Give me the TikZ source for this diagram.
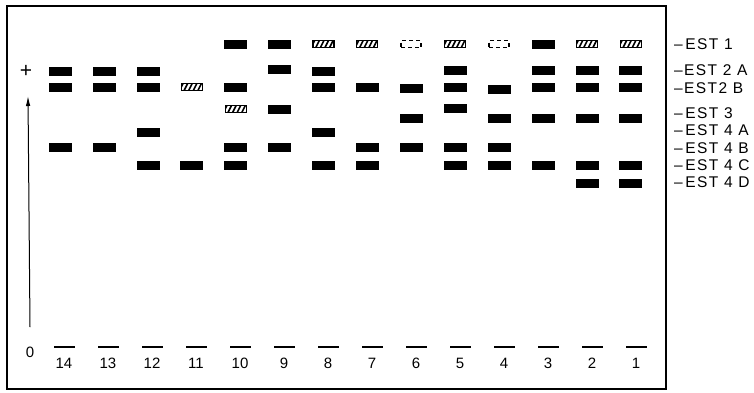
\documentclass[tikz,border=0pt]{standalone}
\usepackage{fontspec}
\setmainfont{Liberation Sans}
\newfontfamily\labfont[LetterSpace=9]{Liberation Sans}
\usetikzlibrary{arrows.meta}
\tikzset{
  sband/.style={minimum width=22pt, minimum height=8pt, inner sep=0pt, fill=black, draw=black, line width=0.6pt},
  hband/.style={minimum width=21pt, minimum height=7pt, inner sep=0pt, draw=black, line width=1.2pt, fill=white,
    path picture={\foreach \k in {-3,...,3}{\draw[line width=1.6pt] ([xshift=\k*4.6pt-3pt]path picture bounding box.south) -- ++(4pt,8pt);}}},
  dband/.style={minimum width=20pt, minimum height=7pt, inner sep=0pt, draw=black, line width=1.6pt, dash pattern=on 4pt off 3pt},
  lanedash/.style={minimum width=21pt, minimum height=1.4pt, inner sep=0pt, fill=black},
  lanenum/.style={font=\fontsize{15}{15}\selectfont, inner sep=0pt},
  estlab/.style={font=\labfont\fontsize{15.5}{15.5}\selectfont, anchor=west, inner sep=0pt},
  axislab/.style={font=\fontsize{15}{15}\selectfont, inner sep=0pt},
}
\begin{document}
\begin{tikzpicture}[x=1pt,y=-1pt]
\useasboundingbox (0,0) rectangle (754,392);
\draw[line width=2.4pt] (7,6) rectangle (666,389);
% axis
\node[axislab, font=\fontsize{21}{21}\selectfont] (plus) at (26,71) {+};
\node[axislab] (zero) at (30,352) {0};
\coordinate (abot) at (30,327);
\coordinate (atop) at (28,96);
\draw[line width=1pt, -{Latex[length=10pt,width=4.5pt]}] (abot) -- (atop);
% lane labels
\foreach \c in {1,...,14}{
  \node[lanedash] (d\c) at ({64+44*(14-\c)},347) {};
  \node[lanenum] (n\c) at ({64+44*(14-\c)},363) {\c};
}
% bands
\foreach \c/\y/\s in {
  14/71/sband, 14/87/sband, 14/147/sband,
  13/71/sband, 13/87/sband, 13/147/sband,
  12/71/sband, 12/87/sband, 12/132/sband, 12/165/sband,
  11/87/hband, 11/165/sband,
  10/44/sband, 10/87/sband, 10/109/hband, 10/147/sband, 10/165/sband,
  9/44/sband, 9/69/sband, 9/109/sband, 9/147/sband,
  8/44/hband, 8/71/sband, 8/87/sband, 8/132/sband, 8/165/sband,
  7/44/hband, 7/87/sband, 7/147/sband, 7/165/sband,
  6/44/dband, 6/88/sband, 6/118/sband, 6/147/sband,
  5/44/hband, 5/70/sband, 5/87/sband, 5/108/sband, 5/147/sband, 5/165/sband,
  4/44/dband, 4/89/sband, 4/118/sband, 4/147/sband, 4/165/sband,
  3/44/sband, 3/70/sband, 3/87/sband, 3/118/sband, 3/165/sband,
  2/44/hband, 2/70/sband, 2/87/sband, 2/118/sband, 2/165/sband, 2/183/sband,
  1/44/hband, 1/70/sband, 1/87/sband, 1/118/sband, 1/165/sband, 1/183/sband}{
  \node[\s] (b\c-\y) at ({60+43.9*(14-\c)},\y) {};
}
% right labels
\node[estlab] (est1) at (674,44) {–\,EST 1};
\node[estlab] (est2a) at (674,70) {–EST 2 A};
\node[estlab] (est2b) at (674,88) {–EST2 B};
\node[estlab] (est3) at (674,113) {–\,EST 3};
\node[estlab] (est4a) at (674,130) {–\,EST 4 A};
\node[estlab] (est4b) at (674,148) {–\,EST 4 B};
\node[estlab] (est4c) at (674,165) {–\,EST 4 C};
\node[estlab] (est4d) at (674,182) {–\,EST 4 D};
\end{tikzpicture}
\end{document}
